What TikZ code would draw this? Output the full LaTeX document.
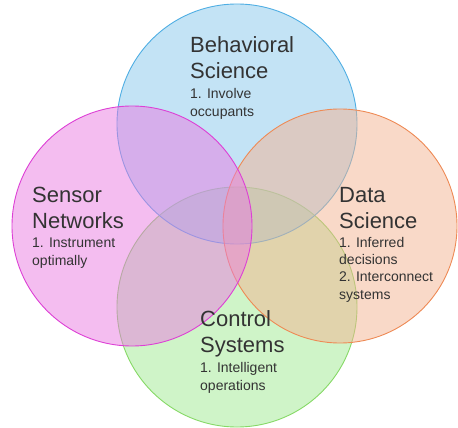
\documentclass[tikz,border=0pt]{standalone}
\usepackage{fontspec}
\setmainfont{Liberation Sans}
\definecolor{behavfill}{HTML}{87C7EB}
\definecolor{behavline}{HTML}{4FAEE3}
\definecolor{sensorfill}{HTML}{E97BE1}
\definecolor{sensorline}{HTML}{DD3FD5}
\definecolor{datafill}{HTML}{F3B391}
\definecolor{dataline}{HTML}{EE8A55}
\definecolor{controlfill}{HTML}{9FE991}
\definecolor{controlline}{HTML}{86D966}
\definecolor{labeltext}{HTML}{333333}
\tikzset{
  area/.style={circle, minimum size=#1, inner sep=0pt, line width=0.9pt, fill opacity=0.5},
  title/.style={anchor=base west, inner sep=0pt, align=left, text=labeltext, font=\fontsize{22}{26}\selectfont},
  items/.style={anchor=base west, inner sep=0pt, align=left, text=labeltext, font=\fontsize{14}{17.2}\selectfont}
}
\begin{document}
\begin{tikzpicture}[x=1pt,y=-1pt]
                \useasboundingbox (0,0) rectangle (458,428);
                \node[area=240pt, draw=controlline, fill=controlfill] (control) at (237,307) {};
                \node[area=240pt, draw=behavline, fill=behavfill] (behav) at (237,124) {};
                \node[area=234pt, draw=dataline, fill=datafill] (data) at (340,226) {};
                \node[area=240pt, draw=sensorline, fill=sensorfill] (sensor) at (132,226) {};
                \node[title] (behavtitle) at (190,78) {Behavioral\\Science};
                \node[items] (behavitems) at (190,116) {1. Involve\\occupants};
                \node[title] (sensortitle) at (32,228) {Sensor\\Networks};
                \node[items] (sensoritems) at (32,265) {1. Instrument\\optimally};
                \node[title] (datatitle) at (339,228) {Data\\Science};
                \node[items] (dataitems) at (339,299) {1. Inferred\\decisions\\2. Interconnect\\systems};
                \node[title] (controltitle) at (200,352) {Control\\Systems};
                \node[items] (controlitems) at (200,390) {1. Intelligent\\operations};
            \end{tikzpicture}
\end{document}
